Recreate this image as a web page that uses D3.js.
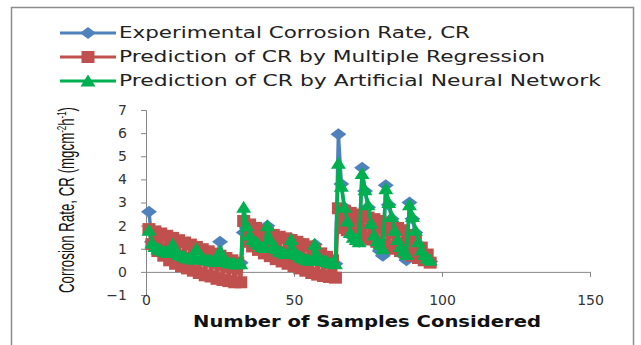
<!DOCTYPE html>
<meta charset="utf-8">
<head>
<title>Corrosion rate chart</title>
<style>
  body { margin: 0; background: #fff; }
  svg { display: block; }
</style>
</head>
<body>
<div id="chart"></div>
<script src="https://d3js.org/d3.v7.min.js"></script>
<script>

// sample numbers 1..96
var samples = [
  1,2,3,4,5,6,7,8, 9,10,11,12,13,14,15,16, 17,18,19,20,21,22,23,24, 25,26,27,28,29,30,31,32,
  33,34,35,36,37,38,39,40, 41,42,43,44,45,46,47,48, 49,50,51,52,53,54,55,56, 57,58,59,60,61,62,63,64,
  65,66,67,68,69,70,71,72, 73,74,75,76,77,78,79,80, 81,82,83,84,85,86,87,88, 89,90,91,92,93,94,95,96
];

var experimental = [
  2.6,1.3,1.15,1.05,0.95,0.9,0.85,0.8,   1.25,0.85,0.75,0.7,0.65,0.6,0.6,0.55,
  1.0,0.7,0.6,0.55,0.5,0.5,0.45,0.45,    1.3,0.55,0.45,0.4,0.4,0.35,0.35,0.4,
  1.7,1.9,1.6,1.4,1.3,1.2,1.1,1.05,      2.0,1.4,1.15,1.0,0.9,0.85,0.8,0.8,
  1.45,0.9,0.75,0.65,0.6,0.55,0.5,0.5,   1.2,0.7,0.55,0.5,0.45,0.4,0.4,0.35,
  5.95,3.8,2.8,2.2,1.7,1.5,1.4,1.3,      4.5,3.5,2.8,2.0,1.5,1.2,0.9,0.7,
  3.75,2.9,2.3,1.7,1.3,1.0,0.7,0.5,      3.0,2.3,1.7,1.2,0.85,0.65,0.5,0.45
];

var multipleRegression = [
  1.85,1.2,1.75,0.9,1.66,0.7,1.56,0.5,      1.47,0.35,1.37,0.25,1.27,0.15,1.18,0.05,
  1.08,-0.05,0.98,-0.15,0.89,-0.2,0.79,-0.3, 0.7,-0.35,0.6,-0.4,0.5,-0.45,0.4,-0.45,
  2.2,1.3,2.05,1.1,1.9,0.95,1.78,0.8,       1.68,0.68,1.6,0.55,1.52,0.45,1.45,0.35,
  1.38,0.25,1.3,0.15,1.2,0.05,1.1,-0.05,    0.95,-0.12,0.8,-0.18,0.65,-0.22,0.5,-0.25,
  2.75,1.9,2.65,1.8,2.55,1.7,2.48,1.6,      2.42,1.5,2.35,1.4,2.28,1.3,2.2,1.2,
  2.1,1.1,2.0,1.0,1.9,0.9,1.8,0.8,          1.6,0.7,1.35,0.6,1.05,0.5,0.75,0.4
];

var neuralNetwork = [
  1.8,1.25,1.1,1.0,0.95,0.9,0.85,0.85,   1.2,0.85,0.75,0.7,0.65,0.6,0.6,0.55,
  1.0,0.7,0.6,0.55,0.5,0.5,0.45,0.45,    0.9,0.55,0.45,0.4,0.4,0.35,0.35,0.35,
  2.8,2.0,1.6,1.4,1.3,1.2,1.1,1.05,      2.0,1.4,1.15,1.0,0.9,0.85,0.8,0.8,
  1.4,0.9,0.75,0.65,0.6,0.55,0.5,0.5,    1.2,0.7,0.55,0.5,0.45,0.4,0.4,0.35,
  4.7,3.7,2.8,2.2,1.7,1.5,1.4,1.3,       4.25,3.55,2.9,2.1,1.6,1.35,1.2,1.0,
  3.6,3.0,2.4,1.8,1.4,1.1,0.9,0.75,      2.9,2.4,1.8,1.3,0.95,0.75,0.6,0.5
];

var seriesNames = [
  "Experimental Corrosion Rate, CR",
  "Prediction of CR by Multiple Regression",
  "Prediction of CR by Artificial Neural Network"
];
var seriesColors = ["#4F81BD", "#C0504D", "#00B050"];
var xTicks = [0, 50, 100, 150];
var yTicks = [-1, 0, 1, 2, 3, 4, 5, 6, 7];

var width = 641, height = 345;

var svg = d3.select("#chart")
  .append("svg")
    .attr("width", width)
    .attr("height", height);

// outer frame of the chart area
svg.append("rect")
  .attr("x", 11.5).attr("y", 7.5)
  .attr("width", 622).attr("height", 360)
  .attr("fill", "none")
  .attr("stroke", "#8c8c8c")
  .attr("stroke-width", 1.5);

var x = d3.scaleLinear().domain([0, 150]).range([146, 590]);
var y = d3.scaleLinear().domain([-1, 7]).range([295, 110]);

// marker shapes (a bit wider than tall, like the source)
function marker(kind) {
  if (kind == 0) return "M-8,0L0,-6L8,0L0,6Z";
  if (kind == 1) return "M-6.5,-6H6.5V6H-6.5Z";
  return "M-7.5,5.5L0,-6.5L7.5,5.5Z";
}

// y axis
var yAxis = svg.append("g")
  .attr("transform", "translate(" + x(0) + ",0)")
  .call(d3.axisLeft(y).tickValues(yTicks).tickSize(5).tickPadding(14).tickFormat(d3.format("d")));
yAxis.select(".domain").attr("stroke", "#868686");
yAxis.selectAll(".tick line").attr("stroke", "#868686");
yAxis.selectAll("text")
  .style("font-family", "DejaVu Sans")
  .style("font-size", "14px")
  .attr("fill", "#333");

// x axis sits on y = 0, labels pushed down to the -1 level
var xAxis = svg.append("g")
  .attr("transform", "translate(0," + y(0) + ")")
  .call(d3.axisBottom(x).tickValues(xTicks).tickSize(5).tickPadding(18).tickSizeOuter(0));
xAxis.select(".domain").attr("stroke", "#868686");
xAxis.selectAll(".tick line").attr("stroke", "#868686");
xAxis.selectAll("text")
  .style("font-family", "DejaVu Sans")
  .style("font-size", "14px")
  .attr("fill", "#333");

// axis titles
svg.append("text")
  .attr("x", 367).attr("y", 327)
  .attr("text-anchor", "middle")
  .attr("textLength", 348)
  .attr("lengthAdjust", "spacingAndGlyphs")
  .style("font-family", "DejaVu Sans")
  .style("font-weight", "bold")
  .style("font-size", "15px")
  .attr("fill", "#111")
  .text("Number of Samples Considered");

var yt = svg.append("text")
  .attr("transform", "translate(74,200) rotate(-90)")
  .attr("text-anchor", "middle")
  .attr("textLength", 186)
  .attr("lengthAdjust", "spacingAndGlyphs")
  .style("font-family", "Liberation Sans Narrow, Liberation Sans")
  .style("font-size", "22px")
  .attr("fill", "#111");
yt.append("tspan").text("Corrosion Rate, CR (mgcm");
yt.append("tspan").attr("dy", -8).style("font-size", "13px").text("-2");
yt.append("tspan").attr("dy", 8).text("h");
yt.append("tspan").attr("dy", -8).style("font-size", "13px").text("-1");
yt.append("tspan").attr("dy", 8).text(")");

// series
var allSeries = [experimental, multipleRegression, neuralNetwork];
var line = d3.line()
  .x(function(d, i) { return x(samples[i]); })
  .y(function(d) { return y(d); });

allSeries.forEach(function(values, s) {
  var g = svg.append("g");
  g.append("path")
    .datum(values)
    .attr("fill", "none")
    .attr("stroke", seriesColors[s])
    .attr("stroke-width", 3.5)
    .attr("stroke-linejoin", "round")
    .attr("d", line);
  g.selectAll("path.pt")
    .data(values)
    .enter().append("path")
    .attr("class", "pt")
    .attr("transform", function(d, i) { return "translate(" + x(samples[i]) + "," + y(d) + ")"; })
    .attr("d", marker(s))
    .attr("fill", seriesColors[s]);
});

// legend
var legend = svg.append("g");
var legendWidths = [351, 426, 482];
seriesNames.forEach(function(name, i) {
  var ly = 33 + i * 24;
  legend.append("line")
    .attr("x1", 60).attr("x2", 116)
    .attr("y1", ly).attr("y2", ly)
    .attr("stroke", seriesColors[i])
    .attr("stroke-width", 3);
  legend.append("path")
    .attr("transform", "translate(88," + ly + ")")
    .attr("d", marker(i))
    .attr("fill", seriesColors[i]);
  legend.append("text")
    .attr("x", 119).attr("y", ly + 5)
    .attr("textLength", legendWidths[i])
    .attr("lengthAdjust", "spacingAndGlyphs")
    .style("font-family", "DejaVu Sans")
    .style("font-size", "15px")
    .attr("fill", "#222")
    .text(name);
});

</script>
</body>
